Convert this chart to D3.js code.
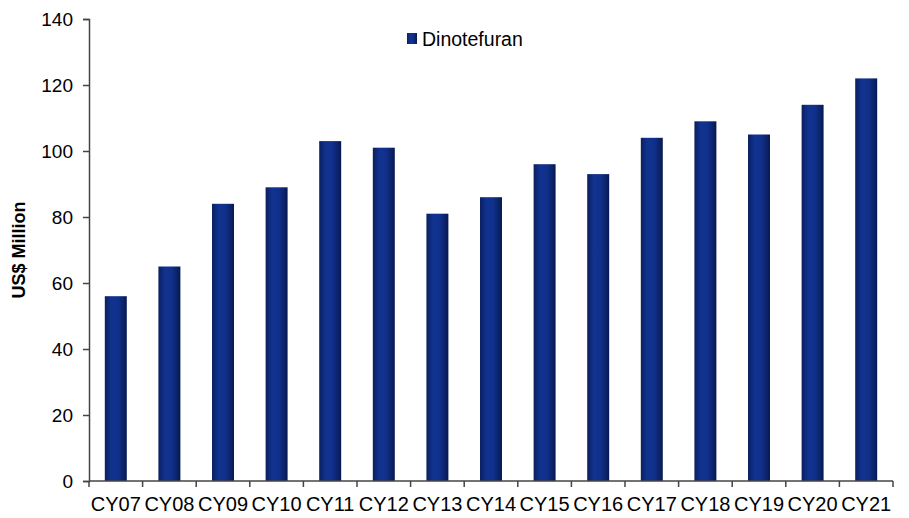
<!DOCTYPE html>
<html>
<head>
<meta charset="utf-8">
<script src="https://cdn.jsdelivr.net/npm/d3@7"></script>
<style>
  html, body { margin: 0; padding: 0; background: #fff; }
  svg { display: block; font-family: Arial, "Liberation Sans", sans-serif; }
</style>
</head>
<body>
<svg id="chart" width="909" height="518"></svg>
<script>
// Annual Dinotefuran sales, US$ million
const categories = ["CY07","CY08","CY09","CY10","CY11","CY12","CY13","CY14","CY15","CY16","CY17","CY18","CY19","CY20","CY21"];
const values = [56, 65, 84, 89, 103, 101, 81, 86, 96, 93, 104, 109, 105, 114, 122];
const yTicks = [0, 20, 40, 60, 80, 100, 120, 140];
const seriesName = "Dinotefuran";
const yTitle = "US$ Million";

const svg = d3.select("#chart");
const margin = { left: 89, right: 16, top: 19, bottom: 37 };
const W = 909, H = 518;

const x = d3.scaleBand()
  .domain(categories)
  .range([margin.left, W - margin.right])
  .paddingInner(0.59)
  .paddingOuter(0.295);

const y = d3.scaleLinear()
  .domain([0, 140])
  .range([H - margin.bottom, margin.top]);

// Bar fill: navy with darker edges
const defs = svg.append("defs");
const grad = defs.append("linearGradient")
  .attr("id", "barFill")
  .attr("x1", "0").attr("x2", "1").attr("y1", "0").attr("y2", "0");
[[0, "#0a1f60"], [0.3, "#11338f"], [0.6, "#10308c"], [0.85, "#0b2368"], [1, "#07184f"]]
  .forEach(([o, c]) => grad.append("stop").attr("offset", o).attr("stop-color", c));

svg.append("g")
  .selectAll("rect")
  .data(values)
  .join("rect")
  .attr("x", (d, i) => x(categories[i]))
  .attr("width", x.bandwidth())
  .attr("y", d => y(d))
  .attr("height", d => y(0) - y(d))
  .attr("fill", "url(#barFill)");

const axisColor = "#444";

// Y axis
const yAxis = svg.append("g")
  .attr("transform", `translate(${margin.left},0)`)
  .call(d3.axisLeft(y).tickValues(yTicks).tickSize(6).tickSizeOuter(6).tickPadding(10));
yAxis.select(".domain").attr("stroke", axisColor).attr("stroke-width", 1.5);
yAxis.selectAll(".tick line").attr("stroke", axisColor).attr("stroke-width", 1.5);
yAxis.selectAll(".tick text")
  .attr("font-size", 19)
  .attr("fill", "#000")
  .attr("font-family", "Arial, 'Liberation Sans', sans-serif");

// X axis with ticks at category boundaries
const boundaries = categories.map(c => x(c) - x.step() * x.paddingInner() / 2);
boundaries.push(W - margin.right);
const xg = svg.append("g");
xg.append("line")
  .attr("x1", margin.left).attr("x2", W - margin.right)
  .attr("y1", y(0)).attr("y2", y(0))
  .attr("stroke", axisColor).attr("stroke-width", 1.5);
xg.selectAll("line.tk")
  .data(boundaries)
  .join("line")
  .attr("class", "tk")
  .attr("x1", d => d).attr("x2", d => d)
  .attr("y1", y(0)).attr("y2", y(0) + 6)
  .attr("stroke", axisColor).attr("stroke-width", 1.5);
xg.selectAll("text")
  .data(categories)
  .join("text")
  .attr("x", d => x(d) + x.bandwidth() / 2)
  .attr("y", y(0) + 30)
  .attr("text-anchor", "middle")
  .attr("font-size", 20)
  .attr("fill", "#000")
  .text(d => d);

// Y axis title
svg.append("text")
  .attr("transform", `translate(25,${(y(0) + y(140)) / 2}) rotate(-90)`)
  .attr("text-anchor", "middle")
  .attr("font-size", 18)
  .attr("font-weight", "bold")
  .attr("fill", "#000")
  .text(yTitle);

// Legend
const lg = svg.append("g").attr("transform", "translate(407,33)");
lg.append("rect").attr("width", 10).attr("height", 11).attr("fill", "url(#barFill)");
lg.append("text")
  .attr("x", 15).attr("y", 13)
  .attr("font-size", 19.5)
  .attr("fill", "#000")
  .text(seriesName);
</script>
</body>
</html>
